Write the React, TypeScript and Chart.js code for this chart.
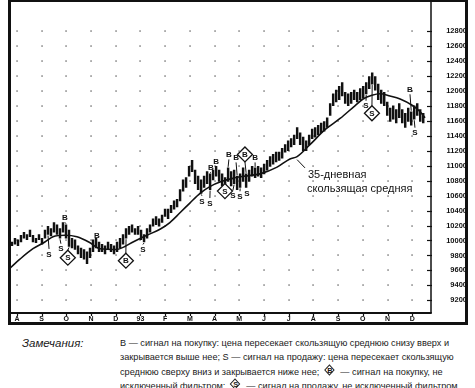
import React, { useEffect, useRef } from "react";
import { Chart, registerables } from "chart.js";

Chart.register(...registerables);

// ---- data ----
const monthLabels = ["A", "S", "O", "N", "D", "93", "F", "M", "A", "M", "J", "J", "A", "S", "O", "N", "D"];
const yTicks = [92, 94, 96, 98, 100, 102, 104, 106, 108, 110, 112, 114, 116, 118, 120, 122, 124, 126, 128];

// price bars: one bar every ~2.5 trading days, starting late July 1992 (months from Aug 1992)
const barStart = -0.2;
const barStep = 0.1215;
const highs = [
  99.8, 100.3, 100.1, 100.7, 101.1, 100.8, 101.4, 100.7, 100.3, 100.8,
  100.3, 101.4, 101.9, 101.6, 102.4, 102.1, 101.6, 102.4, 102.1, 101.4,
  100.3, 100.1, 99.3, 99.0, 98.8, 98.5, 99.0, 100.1, 100.3, 99.8,
  99.5, 99.3, 99.8, 99.5, 99.3, 99.8, 100.3, 100.8, 101.6, 101.9,
  102.1, 101.6, 101.9, 101.4, 100.8, 101.6, 102.1, 102.9, 103.2, 102.9,
  103.4, 104.2, 104.2, 104.7, 105.3, 105.5, 106.8, 108.1, 108.4, 109.9,
  110.7, 109.4, 108.6, 108.1, 108.6, 109.2, 108.9, 109.4, 109.9, 109.4,
  108.9, 108.4, 109.7, 109.2, 109.4, 108.6, 108.9, 109.7, 108.9, 109.4,
  109.9, 109.7, 109.9, 109.7, 110.2, 110.7, 111.2, 111.5, 111.8, 111.8,
  112.3, 112.8, 113.3, 113.6, 114.1, 115.1, 114.4, 113.8, 113.3, 114.1,
  114.9, 115.1, 115.4, 115.7, 115.9, 116.4, 118.3, 119.6, 120.1, 120.6,
  121.1, 119.8, 119.6, 119.8, 120.1, 119.8, 120.3, 120.6, 121.1, 121.9,
  122.4, 121.9, 120.9, 120.1, 119.8, 118.5, 117.7, 118.0, 117.5, 118.3,
  117.5, 117.0, 117.7, 117.2, 118.0, 118.3, 117.5, 117.0,
];
const lows = [
  99.3, 99.5, 99.3, 99.8, 100.3, 100.1, 100.5, 99.8, 99.7, 100.1,
  99.5, 100.3, 100.8, 100.6, 101.1, 100.8, 100.3, 101.1, 100.3, 99.2,
  99.0, 98.8, 98.2, 97.7, 97.5, 96.9, 97.7, 98.5, 99.0, 98.5,
  98.5, 98.2, 98.8, 98.5, 98.2, 98.5, 99.0, 99.5, 100.3, 100.8,
  101.1, 100.8, 100.8, 100.1, 99.8, 100.3, 101.1, 101.9, 102.1, 101.9,
  102.4, 103.2, 102.9, 103.7, 104.2, 104.5, 105.3, 106.6, 107.1, 108.6,
  109.2, 107.6, 106.8, 106.3, 107.1, 107.6, 106.8, 108.1, 108.6, 107.9,
  107.3, 107.1, 107.9, 107.3, 107.6, 106.8, 107.1, 107.9, 107.1, 107.9,
  108.6, 108.4, 108.6, 108.4, 108.9, 109.4, 109.9, 110.2, 110.5, 110.7,
  111.0, 111.8, 112.0, 112.5, 112.8, 113.6, 112.8, 112.0, 112.0, 112.8,
  113.6, 113.8, 114.1, 114.4, 114.6, 115.1, 116.7, 118.0, 118.5, 118.8,
  119.3, 118.3, 118.0, 118.3, 118.8, 118.5, 118.8, 119.0, 119.6, 120.3,
  120.9, 120.1, 118.8, 118.3, 118.0, 116.7, 115.9, 116.2, 115.7, 116.4,
  115.7, 115.1, 115.9, 115.4, 116.2, 116.7, 115.9, 115.7,
];

// 35-day moving average
const maMonths = [
  -0.28, 0.12, 0.65, 1.13, 1.46, 1.94, 2.43, 2.96, 3.36, 4.05, 4.37, 4.7, 5.26,
  5.79, 6.19, 6.6, 7.0, 7.41, 7.81, 8.3, 8.74, 9.23, 9.84, 10.53, 11.05, 11.34,
  11.86, 12.47, 13.08, 13.68, 14.01, 14.37, 14.7, 15.1, 15.51, 16.03, 16.32, 16.52,
];
const maValues = [
  96.3, 97.5, 98.9, 99.8, 100.5, 100.7, 100.5, 99.7, 98.9, 98.8, 99.2, 99.8, 100.7,
  101.5, 102.4, 103.7, 105.0, 106.3, 107.2, 107.9, 108.3, 108.6, 108.9, 109.8, 110.9, 111.2,
  112.8, 114.8, 116.3, 118.0, 118.9, 119.4, 119.6, 119.3, 118.9, 118.0, 117.2, 116.4,
];

// B / S signals
const sigMonths = [1.94, 1.3, 1.78, 2.06, 3.24, 4.41, 5.1, 7.49, 7.81, 7.85, 8.06, 8.42, 8.58, 8.74, 8.87, 9.03, 9.23, 9.31, 9.64, 14.13, 14.37, 15.91, 16.11];
const sigPrices = [103.1, 98.2, 98.9, 97.7, 100.7, 97.3, 98.8, 105.3, 105.0, 109.8, 110.6, 106.6, 111.5, 106.0, 111.1, 105.9, 111.5, 106.3, 111.1, 118.0, 117.0, 120.2, 114.4];
const sigTypes = ["B", "S", "S", "S", "B", "B", "S", "S", "S", "B", "B", "S", "B", "S", "B", "S", "B", "S", "B", "S", "S", "B", "S"];
const sigBoxed = [false, false, false, true, false, true, false, false, false, false, false, true, false, false, false, false, true, false, false, false, true, false, false];

const maNoteLines = ["35-дневная", "скользящая средняя"];
const maNoteAt = { m: 11.78, p: 108.8 };
const maArrowFrom = { m: 11.66, p: 109.7 };
const maArrowTo = { m: 11.34, p: 110.8 };

const FONT = "'Liberation Sans', Arial, sans-serif";
const INK = "#111";

const decor = {
  id: "decor",
  beforeDatasetsDraw(chart: any) {
    const { ctx, scales } = chart;
    const x = scales.x;
    const y = scales.y;
    ctx.save();
    ctx.fillStyle = "#555";
    monthLabels.forEach((_, m) => {
      const px = Math.round(x.getPixelForValue(m));
      yTicks.forEach((v) => {
        const py = Math.round(y.getPixelForValue(v));
        ctx.fillRect(px - 0.6, py - 0.6, 1.3, 1.3);
      });
    });
    ctx.restore();
  },
  afterDraw(chart: any) {
    const { ctx, chartArea: ca, scales, width: W, height: H } = chart;
    const x = scales.x;
    const y = scales.y;
    ctx.save();
    ctx.strokeStyle = INK;
    ctx.fillStyle = INK;

    // inner plot border (right + bottom axis)
    ctx.lineWidth = 1.5;
    ctx.beginPath();
    ctx.moveTo(ca.right, 1);
    ctx.lineTo(ca.right, ca.bottom);
    ctx.stroke();
    ctx.lineWidth = 2;
    ctx.beginPath();
    ctx.moveTo(ca.left, ca.bottom);
    ctx.lineTo(ca.right + 0.75, ca.bottom);
    ctx.stroke();

    // y tick marks
    ctx.lineWidth = 1.2;
    yTicks.forEach((v) => {
      const py = Math.round(y.getPixelForValue(v)) + 0.5;
      ctx.beginPath();
      ctx.moveTo(ca.right - 4, py);
      ctx.lineTo(ca.right + 1, py);
      ctx.stroke();
    });
    // x tick marks
    monthLabels.forEach((_, m) => {
      const px = Math.round(x.getPixelForValue(m)) + 0.5;
      ctx.beginPath();
      ctx.moveTo(px, ca.bottom);
      ctx.lineTo(px, ca.bottom + 3);
      ctx.stroke();
    });

    // outer frame
    ctx.lineWidth = 3;
    ctx.beginPath();
    ctx.moveTo(ca.left - 0.5, 0);
    ctx.lineTo(ca.left - 0.5, H - 2.5);
    ctx.lineTo(W - 8.5, H - 2.5);
    ctx.lineTo(W - 8.5, 0);
    ctx.stroke();
    ctx.lineWidth = 2;
    ctx.beginPath();
    ctx.moveTo(ca.left - 2, 1);
    ctx.lineTo(W - 7, 1);
    ctx.stroke();

    // signals
    ctx.font = `bold 8px ${FONT}`;
    ctx.textAlign = "center";
    ctx.textBaseline = "middle";
    sigMonths.forEach((m, i) => {
      const px = x.getPixelForValue(m);
      const py = y.getPixelForValue(sigPrices[i]);
      const idx = Math.max(0, Math.min(highs.length - 1, Math.round((m - barStart) / barStep)));
      const bx = x.getPixelForValue(barStart + idx * barStep);
      const hiPx = y.getPixelForValue(highs[idx]);
      const loPx = y.getPixelForValue(lows[idx]);
      const r = sigBoxed[i] ? 7.5 : 5;
      ctx.lineWidth = 1;
      if (py + r < hiPx - 1) {
        ctx.beginPath();
        ctx.moveTo(px, py + r);
        ctx.lineTo(bx, hiPx - 1);
        ctx.stroke();
      } else if (py - r > loPx + 1) {
        ctx.beginPath();
        ctx.moveTo(px, py - r);
        ctx.lineTo(bx, loPx + 1);
        ctx.stroke();
      }
      if (sigBoxed[i]) {
        ctx.beginPath();
        ctx.moveTo(px, py - 7.5);
        ctx.lineTo(px + 7.5, py);
        ctx.lineTo(px, py + 7.5);
        ctx.lineTo(px - 7.5, py);
        ctx.closePath();
        ctx.fillStyle = "#fff";
        ctx.fill();
        ctx.lineWidth = 1.3;
        ctx.stroke();
        ctx.fillStyle = INK;
      }
      ctx.fillText(sigTypes[i], px, py + 0.5);
    });

    // moving-average note
    ctx.font = `11px ${FONT}`;
    ctx.textAlign = "left";
    ctx.textBaseline = "middle";
    const ax = x.getPixelForValue(maNoteAt.m);
    const ay = y.getPixelForValue(maNoteAt.p);
    ctx.fillText(maNoteLines[0], ax, ay);
    ctx.fillText(maNoteLines[1], ax - 1, ay + 14);
    ctx.lineWidth = 1;
    ctx.beginPath();
    ctx.moveTo(x.getPixelForValue(maArrowFrom.m), y.getPixelForValue(maArrowFrom.p));
    ctx.lineTo(x.getPixelForValue(maArrowTo.m), y.getPixelForValue(maArrowTo.p));
    ctx.stroke();

    ctx.restore();
  },
};

function Diamond({ letter }: { letter: string }) {
  return (
    <span
      style={{
        display: "inline-block",
        position: "relative",
        width: 15,
        height: 12,
        verticalAlign: "-2px",
        margin: "0 1px",
      }}
    >
      <span
        style={{
          position: "absolute",
          left: 3,
          top: 1.5,
          width: 8,
          height: 8,
          border: "1px solid #222",
          transform: "rotate(45deg)",
          boxSizing: "border-box",
        }}
      />
      <span
        style={{
          position: "absolute",
          left: 0,
          top: 0,
          width: 15,
          textAlign: "center",
          fontSize: 8,
          lineHeight: "12px",
          fontWeight: "bold",
        }}
      >
        {letter}
      </span>
    </span>
  );
}

export default function App() {
  const ref = useRef<HTMLCanvasElement>(null);

  useEffect(() => {
    if (!ref.current) return;
    const chart = new Chart(ref.current, {
      type: "bar",
      data: {
        datasets: [
          {
            type: "line",
            data: maMonths.map((m, i) => ({ x: m, y: maValues[i] })),
            borderColor: INK,
            borderWidth: 1.6,
            pointRadius: 0,
            tension: 0.4,
            cubicInterpolationMode: "monotone",
            order: 0,
          } as any,
          {
            type: "bar",
            data: highs.map((h, i) => ({ x: barStart + i * barStep, y: [lows[i], h] })),
            backgroundColor: INK,
            barThickness: 1.8,
            order: 1,
          } as any,
        ],
      },
      options: {
        responsive: false,
        animation: false,
        events: [],
        layout: { padding: { left: 10, top: 2, right: 8, bottom: 0 } },
        plugins: { legend: { display: false }, tooltip: { enabled: false } },
        scales: {
          x: {
            type: "linear",
            min: -0.28,
            max: 16.76,
            offset: false,
            grid: { display: false, drawTicks: false, offset: false },
            border: { display: false },
            afterBuildTicks: (s: any) => {
              s.ticks = monthLabels.map((_, i) => ({ value: i }));
            },
            afterFit: (s: any) => {
              s.height = 13;
            },
            ticks: {
              autoSkip: false,
              maxRotation: 0,
              padding: 2,
              color: INK,
              font: { family: FONT, size: 7, weight: "bold" },
              callback: (v: any) => monthLabels[Math.round(Number(v))] ?? "",
            },
          },
          y: {
            type: "linear",
            position: "right",
            min: 90.31,
            max: 130.73,
            grid: { display: false, drawTicks: false },
            border: { display: false },
            afterBuildTicks: (s: any) => {
              s.ticks = yTicks.map((v) => ({ value: v }));
            },
            afterFit: (s: any) => {
              s.width = 36;
            },
            ticks: {
              autoSkip: false,
              crossAlign: "far",
              padding: 6,
              color: INK,
              font: { family: FONT, size: 7.5, weight: "bold" },
              callback: (v: any) => String(Math.round(Number(v) * 100)),
            },
          },
        } as any,
      },
      plugins: [decor],
    } as any);
    return () => chart.destroy();
  }, []);

  const textStyle: React.CSSProperties = {
    fontFamily: FONT,
    fontSize: 9.8,
    lineHeight: "14.3px",
    color: "#1a1a1a",
    whiteSpace: "nowrap",
  };

  return (
    <div
      style={{
        position: "absolute",
        left: 0,
        top: 0,
        width: 475,
        height: 388,
        background: "#fff",
        overflow: "hidden",
      }}
    >
      <canvas
        ref={ref}
        width={475}
        height={326}
        style={{ position: "absolute", left: 0, top: 0, display: "block" }}
      />
      <div
        style={{
          ...textStyle,
          position: "absolute",
          left: 22,
          top: 336,
          fontStyle: "italic",
          fontSize: 11.5,
        }}
      >
        Замечания:
      </div>
      <div
        style={{
          ...textStyle,
          position: "absolute",
          left: 120,
          top: 336,
          transform: "scaleX(0.935)",
          transformOrigin: "0 0",
        }}
      >
        <div>B — сигнал на покупку: цена пересекает скользящую среднюю снизу вверх и</div>
        <div>закрывается выше нее; S — сигнал на продажу: цена пересекает скользящую</div>
        <div>
          среднюю сверху вниз и закрывается ниже нее; <Diamond letter="B" /> — сигнал на покупку, не
        </div>
        <div>
          исключенный фильтром; <Diamond letter="S" /> — сигнал на продажу, не исключенный фильтром.
        </div>
      </div>
    </div>
  );
}
